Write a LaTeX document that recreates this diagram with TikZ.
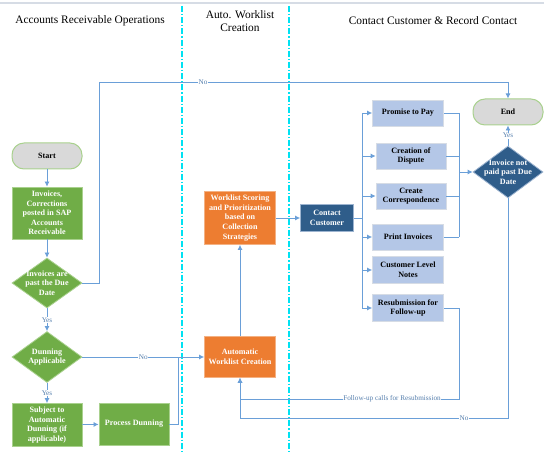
\documentclass[tikz,border=0pt]{standalone}
\usepackage{fontspec}
\setmainfont{Liberation Serif}
\usetikzlibrary{arrows.meta,shapes.geometric,positioning}
\definecolor{flowgreen}{HTML}{70AD47}
\definecolor{greenedge}{HTML}{A9D18E}
\definecolor{floworange}{HTML}{ED7D31}
\definecolor{orangeedge}{HTML}{F4B183}
\definecolor{paleblue}{HTML}{B4C7E7}
\definecolor{paleedge}{HTML}{D6DCE5}
\definecolor{navy}{HTML}{2F5D8A}
\definecolor{navyedge}{HTML}{9DB4D0}
\definecolor{lineblue}{HTML}{6A9FD8}
\definecolor{lanecyan}{HTML}{00E2F2}
\definecolor{termgray}{HTML}{D9D9D9}
\tikzset{
  boxfont/.style={font=\bfseries\fontsize{8.1}{9.6}\selectfont, align=center},
  greenbox/.style={boxfont, draw=greenedge, fill=flowgreen, text=white, line width=0.8pt, minimum width=70pt, inner sep=1pt},
  orangebox/.style={boxfont, draw=orangeedge, fill=floworange, text=white, line width=0.8pt, minimum width=71pt, inner sep=1pt},
  palebox/.style={boxfont, draw=paleedge, fill=paleblue, text=black, line width=0.8pt, minimum height=26pt, inner sep=1pt},
  navybox/.style={boxfont, draw=navyedge, fill=navy, text=white, line width=0.8pt, minimum width=53pt, minimum height=27pt, inner sep=1pt},
  terminal/.style={boxfont, draw=greenedge, fill=termgray, line width=1pt, rounded corners=12pt, minimum width=70pt, minimum height=26pt},
  decision/.style={diamond, draw=greenedge, fill=flowgreen, line width=0.8pt, inner sep=0pt, aspect=1.4, minimum width=70pt, minimum height=50pt},
  diatext/.style={boxfont, text=white, inner sep=0pt},
  flow/.style={draw=lineblue, line width=0.8pt, -{Latex[length=5pt,width=5pt]}},
  link/.style={draw=lineblue, line width=0.8pt},
  lbl/.style={fill=white, text=lineblue!80!black, inner sep=0.6pt, font=\fontsize{7.2}{8}\selectfont},
  lane/.style={draw=lanecyan, line width=1.5pt, dash pattern=on 6pt off 2pt on 1.2pt off 2pt},
  header/.style={font=\fontsize{11.4}{13.5}\selectfont, align=center}
}
\begin{document}
\begin{tikzpicture}[x=1pt, y=-1pt]
  \useasboundingbox (0,0) rectangle (544,454);
  \draw[draw=paleedge, line width=1.5pt] (0,3) -- (544,3);
  \draw[lane] (182,6) -- (182,454);
  \draw[lane] (289,6) -- (289,454);
  \node[header] (hdrar) at (90,21) {Accounts Receivable Operations};
  \node[header] (hdrauto) at (240,21) {Auto. Worklist\\Creation};
  \node[header] (hdrcontact) at (433,21) {Contact Customer \& Record Contact};

  % receivable lane
  \node[terminal] (start) at (47,156) {Start};
  \node[greenbox, minimum height=52pt] (invoices) at (47,213) {Invoices,\\Corrections\\posted in SAP\\Accounts\\Receivable};
  \node[decision] (pastdue) at (47,283) {};
  \node[diatext] (pastduetext) at (pastdue) {Invoices are\\past the Due\\Date};
  \node[decision, minimum height=51pt] (dunning) at (47,357) {};
  \node[diatext] (dunningtext) at (dunning) {Dunning\\Applicable};
  \node[greenbox, minimum height=43pt] (subject) at (47,425) {Subject to\\Automatic\\Dunning (if\\applicable)};
  \node[greenbox, minimum height=42pt] (procdun) at (134,424) {Process Dunning};

  % worklist lane
  \node[orangebox, minimum height=53pt] (scoring) at (240,218) {Worklist Scoring\\and Prioritization\\based on\\Collection\\Strategies};
  \node[orangebox, minimum height=41pt] (autowl) at (240,357) {Automatic\\Worklist Creation};

  % contact lane
  \node[navybox] (contact) at (327,218) {Contact\\Customer};
  \node[palebox, minimum width=71pt] (promise) at (408,113) {Promise to Pay};
  \node[palebox, minimum width=70pt] (dispute) at (411,156) {Creation of\\Dispute};
  \node[palebox, minimum width=70pt] (corresp) at (411,196) {Create\\Correspondence};
  \node[palebox, minimum width=71pt] (printinv) at (408,237) {Print Invoices};
  \node[palebox, minimum width=71pt, minimum height=27pt] (notes) at (408,270) {Customer Level\\Notes};
  \node[palebox, minimum width=71pt, minimum height=27pt] (resub) at (408,308) {Resubmission for\\Follow-up};
  \node[terminal] (finish) at (508,112) {End};
  \node[decision, draw=navyedge, fill=navy, minimum height=52pt] (notpaid) at (508,172) {};
  \node[diatext] (notpaidtext) at (notpaid) {Invoice not\\paid past Due\\Date};

  \coordinate (notop) at (99,82);
  \coordinate (dunjoin) at (178,357);
  \coordinate (trunktop) at (362,113);
  \coordinate (trunkbot) at (362,308);
  \coordinate (mergetop) at (459,113);
  \coordinate (mergebot) at (459,237);
  \coordinate (fucorner) at (459,399);
  \coordinate (nocorner) at (508,418);

  \draw[flow] (start) -- (invoices);
  \draw[flow] (invoices) -- (pastdue);
  \draw[flow] (pastdue) -- node[lbl] (yes1) {Yes} (dunning);
  \draw[flow] (dunning) -- node[lbl] (yes2) {Yes} (subject);
  \draw[flow] (subject) -- (procdun);
  \draw[link] (procdun.east) -| (dunjoin);
  \draw[flow] (dunning.east) -- node[lbl, pos=0.5] (no1) {No} (autowl.west);
  \draw[flow] (pastdue.east) -| (notop) -| (finish.north);
  \node[lbl] (no2) at (203,82) {No};
  \draw[flow] (autowl) -- (scoring);
  \draw[flow] (scoring.east |- contact) -- (contact);
  \draw[link] (contact.east) -- (contact.east -| trunktop);
  \draw[link] (trunktop) -- (trunkbot);
  \foreach \task in {promise,dispute,corresp,printinv,notes,resub}
    \draw[flow] (\task.west -| trunktop) -- (\task.west);
  \foreach \task in {promise,dispute,corresp,printinv}
    \draw[link] (\task.east) -- (\task.east -| mergetop);
  \draw[link] (mergetop) -- (mergebot);
  \draw[flow] (notpaid.west -| mergetop) -- (notpaid.west);
  \draw[flow] (notpaid.north) -- node[lbl] (yes3) {Yes} (finish.south);
  \draw[flow] (resub.east) -| (fucorner) -| (autowl.south);
  \node[lbl] (fulabel) at (392,399) {Follow-up calls for Resubmission};
  \draw[flow] (notpaid.south) -- (nocorner) -| (autowl.south);
  \node[lbl] (no3) at (464,418) {No};
\end{tikzpicture}
\end{document}
